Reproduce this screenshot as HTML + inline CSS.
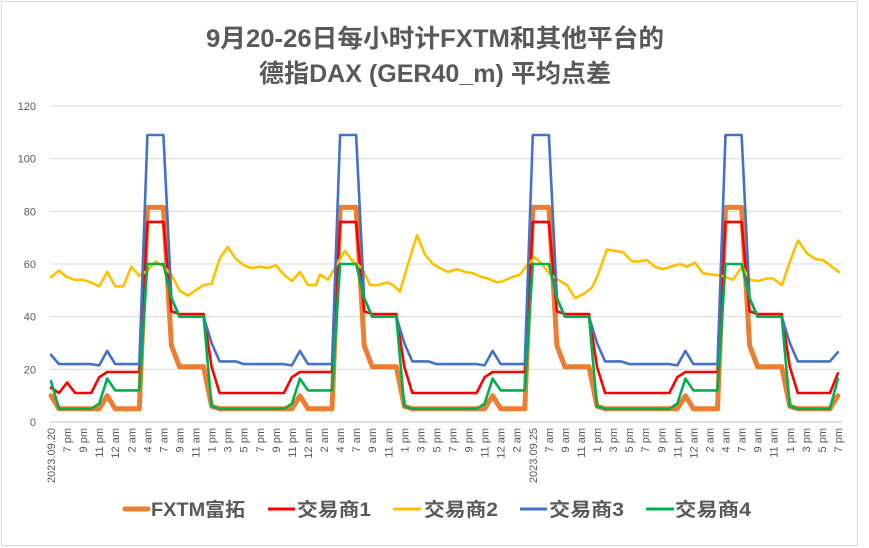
<!DOCTYPE html>
<html><head><meta charset="utf-8"><style>
html,body{margin:0;padding:0;background:#fff;}
svg{display:block;font-family:"Liberation Sans","Noto Sans CJK SC",sans-serif;}
</style></head><body>
<svg id="c" width="869" height="548" xmlns="http://www.w3.org/2000/svg">
<rect x="0" y="0" width="869" height="548" fill="#fff"/>
<rect x="1.5" y="1.5" width="856" height="544" fill="none" stroke="#d9d9d9" stroke-width="1"/>
<text x="435" y="47" text-anchor="middle" font-size="25" font-weight="bold" fill="#595959" textLength="458" lengthAdjust="spacingAndGlyphs">9月20-26日每小时计FXTM和其他平台的</text>
<text x="435" y="82" text-anchor="middle" font-size="25" font-weight="bold" fill="#595959" textLength="352" lengthAdjust="spacingAndGlyphs">德指DAX (GER40_m) 平均点差</text>
<g id="grid" stroke="#d9d9d9" stroke-width="1"></g>
<g id="ylab" font-size="11" fill="#595959" text-anchor="end"></g>
<g id="xlab" font-size="11" fill="#595959"></g>
<g id="series" fill="none" stroke-linejoin="round" stroke-linecap="round"></g>
<g font-size="19" fill="#595959" font-weight="bold">
<line x1="125" y1="509" x2="148" y2="509" stroke="#ed7d31" stroke-width="5" stroke-linecap="round"/>
<text x="151" y="516" textLength="94" lengthAdjust="spacingAndGlyphs">FXTM富拓</text>
<line x1="268" y1="509" x2="295" y2="509" stroke="#ff0000" stroke-width="3"/>
<text x="297" y="516" textLength="74" lengthAdjust="spacingAndGlyphs">交易商1</text>
<line x1="393" y1="509" x2="421" y2="509" stroke="#ffc000" stroke-width="3"/>
<text x="424" y="516" textLength="74" lengthAdjust="spacingAndGlyphs">交易商2</text>
<line x1="520" y1="509" x2="547" y2="509" stroke="#4472c4" stroke-width="3"/>
<text x="549" y="516" textLength="75" lengthAdjust="spacingAndGlyphs">交易商3</text>
<line x1="646" y1="509" x2="674" y2="509" stroke="#00b050" stroke-width="3"/>
<text x="675" y="516" textLength="76" lengthAdjust="spacingAndGlyphs">交易商4</text>
</g>
</svg>
<script>
var NS="http://www.w3.org/2000/svg";
function el(t,a,p,txt){var e=document.createElementNS(NS,t);for(var k in a)e.setAttribute(k,a[k]);if(txt!==undefined)e.textContent=txt;document.getElementById(p).appendChild(e);return e;}
var Y0=422,S=2.633,X0=51,DX=8.03,N=99;
function yy(v){return Y0-v*S;}
for(var g=0;g<=120;g+=20){
 el('line',{x1:50,x2:842,y1:yy(g),y2:yy(g),stroke:g==0?'#bfbfbf':'#d9d9d9'},'grid');
 el('text',{x:36,y:yy(g)+4},'ylab',''+g);
}
var cyc=["4 am","7 am","9 am","11 am","1 pm","3 pm","5 pm","7 pm","9 pm","11 pm","12 am","2 am"];
var labs=["2023.09.20","7 pm","9 pm","11 pm","12 am","2 am"];
labs=labs.concat(cyc,cyc);
var c3=cyc.slice();c3[0]="2023.09.25";
labs=labs.concat(c3,["4 am","7 am","9 am","11 am","1 pm","3 pm","5 pm","7 pm"]);
for(var k=0;k<labs.length;k++){
 var x=X0+2*DX*k+4;
 el('text',{x:0,y:0,transform:'translate('+x.toFixed(1)+',428) rotate(-90)','text-anchor':'end'},'xlab',labs[k]);
}
var peaks=[12,36,60,84];
function tpl(r){
 if(r<=-7)return[5,11,5,22];
 if(r==-6)return[5,17,7,21.5];
 if(r==-5)return[10,19,16.5,27];
 if(r<=-1)return[5,19,12,22];
 if(r<=2)return[81.5,76,60,109];
 if(r==3)return[29,42,47,47];
 if(r<=7)return[21,41,40,40];
 if(r==8)return[6,21,6,30];
 return[5,11,5,23];
}
var O=[],R=[],G=[],B=[];
for(var i=0;i<N;i++){
 var best=null;
 for(var j=0;j<peaks.length;j++){var r=i-peaks[j];if(r>=-12&&r<=11){best=r;break;}}
 if(best===null)best=i-84;
 var v=tpl(best);
 if(i==0)v=[10,13,15.5,25.5];
 if(i==2)v=[5,15,5,22];
 if(i==N-1)v=[10,18.5,16.5,26.5];
 O.push(v[0]);R.push(v[1]);G.push(v[2]);B.push(v[3]);
}
function pts(a){return a.map(function(v,i){return (X0+DX*i).toFixed(1)+','+yy(v).toFixed(1);}).join(' ');}
var yc=[55,57.5,55,54,54,53,51.5,57,51.5,51.5,59,55.5,57.5,61,59,56,50,48,50,52,52.5,62,66.5,62,59.5,58.5,59,58.5,59.5,56,53.5,57,52,52];
var yp=[];
for(var k=0;k<yc.length;k++)yp.push([51+8.03*k,yc[k]]);
var yx=[[320,56],[328,54],[337,60],[345,65],[353,61],[362,58.5],[370,52],[378,52],[387,53],[393,52],[400,49.5],[408,60],[417,71],[425,63.5],[433,60],[440,58.5],[448,57],[457,58],[465,57],[473,56.5],[482,55],[488,54.5],[497,53],[503,53.5],[512,55],[520,56],[528,60],[535,62.5],[542,60],[550,56],[558,54],[567,52],[575,47],[583,48.5],[592,51],[598,56],[607,65.5],[615,65],[623,64.5],[632,61],[638,61],[647,61.5],[655,59],[663,58],[670,59],[680,60],[687,59],[695,60.5],[703,56.5],[713,56],[723,55.5],[733,54],[742,59],[750,54],[758,53.5],[767,54.5],[773,54.5],[782,52],[790,61],[798,69],[807,64],[815,62],[823,61.5],[832,59],[839,57]];
yp=yp.concat(yx);
var Yp=yp.map(function(p){return p[0].toFixed(1)+','+yy(p[1]).toFixed(1);}).join(' ');
el('polyline',{points:pts(O),stroke:'#ed7d31','stroke-width':5},'series');
el('polyline',{points:pts(R),stroke:'#ff0000','stroke-width':2.6},'series');
el('polyline',{points:Yp,stroke:'#ffc000','stroke-width':2.6},'series');
el('polyline',{points:pts(B),stroke:'#4472c4','stroke-width':2.6},'series');
el('polyline',{points:pts(G),stroke:'#00b050','stroke-width':2.6},'series');
</script>
</body></html>
